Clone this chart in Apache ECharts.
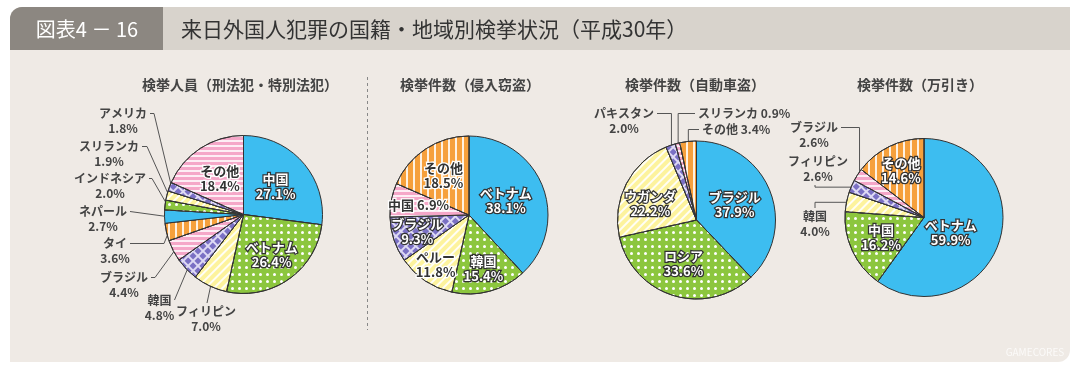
<!DOCTYPE html>
<html><head><meta charset="utf-8">
<script src="https://cdn.jsdelivr.net/npm/echarts@6/dist/echarts.min.js"></script>
<style>html,body{margin:0;padding:0;background:#fff;}#c{width:1080px;height:370px;}</style>
</head><body><div id="c"></div>
<script>
// ---------- data ----------
const headerNo = '図表4 － 16';
const headerTitle = '来日外国人犯罪の国籍・地域別検挙状況（平成30年）';
const pieTitles = ['検挙人員（刑法犯・特別法犯）', '検挙件数（侵入窃盗）', '検挙件数（自動車盗）', '検挙件数（万引き）'];

const pie1Names = ['中国', 'ベトナム', 'フィリピン', '韓国', 'ブラジル', 'タイ', 'ネパール', 'インドネシア', 'スリランカ', 'アメリカ', 'その他'];
const pie1Values = [27.1, 26.4, 7.0, 4.8, 4.4, 3.6, 2.7, 2.0, 1.9, 1.8, 18.4];

const pie2Names = ['ベトナム', '韓国', 'ペルー', 'ブラジル', '中国', 'その他'];
const pie2Values = [38.1, 15.4, 11.8, 9.3, 6.9, 18.5];

const pie3Names = ['ブラジル', 'ロシア', 'ウガンダ', 'パキスタン', 'スリランカ', 'その他'];
const pie3Values = [37.9, 33.6, 22.2, 2.0, 0.9, 3.4];

const pie4Names = ['ベトナム', '中国', '韓国', 'フィリピン', 'ブラジル', 'その他'];
const pie4Values = [59.9, 16.2, 4.0, 2.6, 2.6, 14.6];

// ---------- styles / layout ----------
const FONT = '"Noto Sans CJK JP", "Noto Sans", sans-serif';
const FILL = {
  blue:   { color: '#3dbdf0' },
  dots:   { color: '#8cc63e', decal: { symbol: 'circle', symbolSize: 1, color: '#ffffff', dashArrayX: [3, 4], dashArrayY: [3, 4] } },
  yellow: { color: '#fdf39d', decal: { symbol: 'rect', color: 'rgba(255,255,255,0.9)', dashArrayX: [1, 0], dashArrayY: [2, 4], rotation: -Math.PI / 4 } },
  check:  { color: '#dedaf4', decal: { symbol: 'rect', color: '#7a70c4', dashArrayX: [5, 2], dashArrayY: [5, 2], rotation: Math.PI / 4 } },
  pink:   { color: '#f5a7c8', decal: { symbol: 'rect', color: 'rgba(255,255,255,0.8)', dashArrayX: [1, 0], dashArrayY: [2, 3] } },
  orange: { color: '#f6a03c', decal: { symbol: 'rect', color: 'rgba(255,255,255,0.85)', dashArrayX: [2, 5], dashArrayY: [1, 0] } }
};
const six = ['blue', 'dots', 'yellow', 'check', 'pink', 'orange'];

const PIES = [
  { cx: 243.5, cy: 214.5, r: 79, title: 240, names: pie1Names, values: pie1Values,
    fills: ['blue', 'dots', 'yellow', 'check', 'pink', 'orange', 'blue', 'dots', 'yellow', 'check', 'pink'],
    labels: [
      { rf: 0.54, c: 'w' },
      { rf: 0.62, c: 'w' },
      { out: [206, 304], at: 'top', ox: 1 },
      { out: [159.5, 292.5], at: 'right', dx: 0 },
      { out: [124, 270], at: 'right', dx: 4 },
      { out: [115, 236], at: 'right', dx: 34 },
      { out: [103, 204], at: 'right', dx: 0 },
      { out: [110, 171], at: 'right', dx: 3 },
      { out: [109, 139], at: 'right', dx: 5 },
      { out: [123, 106], at: 'right', dx: 4 },
      { rf: 0.55, c: 'd' }
    ] },
  { cx: 469, cy: 215, r: 79, title: 470, names: pie2Names, values: pie2Values, fills: six,
    labels: [
      { rf: 0.5, c: 'w' },
      { rf: 0.7, c: 'w' },
      { rf: 0.76, c: 'd' },
      { rf: 0.69, c: 'w' },
      { rf: 0.65, c: 'd', one: true },
      { rf: 0.59, c: 'd' }
    ] },
  { cx: 696.5, cy: 220, r: 79, title: 695, names: pie3Names, values: pie3Values, fills: six,
    labels: [
      { rf: 0.52, c: 'w' },
      { rf: 0.57, c: 'w' },
      { rf: 0.62, c: 'w', da: -8 },
      { out: [624, 106], at: 'right', el: 'v' },
      { out: [698, 106], at: 'left', el: 'v', one: true },
      { out: [702, 122], at: 'left', el: 'v', one: true }
    ] },
  { cx: 924, cy: 217.5, r: 79, title: 920, names: pie4Names, values: pie4Values, fills: six,
    labels: [
      { rf: 0.39, c: 'w', da: 12 },
      { rf: 0.6, c: 'w' },
      { out: [815, 209], at: 'top', el: 'u' },
      { out: [818, 154], at: 'bottom', ox: -3, el: 'u' },
      { out: [814, 120], at: 'right', el: 'v' },
      { rf: 0.66, c: 'w' }
    ] }
];

const mctx = document.createElement('canvas').getContext('2d');
function tw(s, size) { mctx.font = 'bold ' + size + 'px ' + FONT; return mctx.measureText(s).width; }

function makeLayout(si) {
  const P = PIES[si];
  const total = P.values.reduce((a, b) => a + b, 0);
  const starts = []; let acc = 0;
  P.values.forEach(v => { starts.push(acc); acc += v; });
  return function (params) {
    const i = params.dataIndex;
    const L = P.labels[i];
    const mid = (starts[i] + P.values[i] / 2) / total * 2 * Math.PI;
    if (!L.out) {
      const a = mid + (L.da || 0) * Math.PI / 180;
      return { x: P.cx + L.rf * P.r * Math.sin(a), y: P.cy - L.rf * P.r * Math.cos(a), align: 'center', verticalAlign: 'middle' };
    }
    const sx = P.cx + P.r * 0.97 * Math.sin(mid), sy = P.cy - P.r * 0.97 * Math.cos(mid);
    const lx = L.out[0], ly = L.out[1], LH = 15;
    let ax, ay;
    if (L.at === 'right') { ax = lx + tw(P.names[i], 12) / 2 + 3; ay = ly + LH / 2; }
    else if (L.at === 'left') { ax = lx - 3; ay = ly + LH / 2; }
    else if (L.at === 'top') { ax = lx + (L.ox || 0); ay = ly - 1; }
    else { ax = lx + (L.ox || 0); ay = ly + (L.one ? 1 : 2) * LH + 1; }
    let elbow;
    if (L.el === 'v') elbow = [sx, ay];
    else if (L.el === 'u') elbow = [ax, sy];
    else elbow = [ax + (L.dx || 0), ay];
    return { x: lx, y: ly, align: L.one ? 'left' : 'center', verticalAlign: 'top',
      labelLinePoints: [[sx, sy], elbow, [ax, ay]] };
  };
}

function labelFor(L) {
  const fmt = p => p.name + (L.one ? ' ' : '\n') + p.value.toFixed(1) + '%';
  if (L.out) {
    return { show: true, position: 'outside', formatter: fmt, fontFamily: FONT, fontSize: 12, fontWeight: 'bold',
      lineHeight: 15, color: '#444' };
  }
  const w = L.c === 'w';
  return { show: true, position: 'inside', formatter: fmt, fontFamily: FONT, fontSize: 13, fontWeight: 'bold',
    lineHeight: 15, color: w ? '#ffffff' : '#333333', textBorderColor: w ? '#333333' : '#ffffff', textBorderWidth: 2.5 };
}

const series = PIES.map((P, si) => ({
  type: 'pie', center: [P.cx, P.cy], radius: P.r, startAngle: 90, clockwise: true,
  silent: true, animation: false, avoidLabelOverlap: false, z: 5,
  itemStyle: { borderColor: '#333', borderWidth: 1 },
  labelLayout: makeLayout(si),
  data: P.names.map((n, i) => {
    const L = P.labels[i];
    const f = FILL[P.fills[i]];
    const it = { color: f.color, borderColor: '#333', borderWidth: 1 };
    if (f.decal) it.decal = f.decal;
    return { name: n, value: P.values[i], itemStyle: it, label: labelFor(L),
      labelLine: { show: !!L.out, length: 6, length2: 6, lineStyle: { color: '#555', width: 1 } } };
  })
}));

const graphics = [
  { type: 'rect', z: 0, shape: { x: 10, y: 7, width: 1060, height: 355, r: [12, 0, 12, 0] }, style: { fill: '#efeae5' } },
  { type: 'rect', z: 1, shape: { x: 10, y: 7, width: 1060, height: 43, r: [12, 0, 0, 0] }, style: { fill: '#d8d3cc' } },
  { type: 'rect', z: 2, shape: { x: 10, y: 7, width: 153, height: 43, r: [12, 0, 0, 0] }, style: { fill: '#8c8781' } },
  { type: 'text', z: 3, x: 87, y: 29, style: { text: headerNo, fill: '#ffffff', font: '20px ' + FONT, align: 'center', verticalAlign: 'middle' } },
  { type: 'text', z: 3, x: 181, y: 29, style: { text: headerTitle, fill: '#333333', font: '21px ' + FONT, align: 'left', verticalAlign: 'middle' } },
  { type: 'line', z: 3, shape: { x1: 367.5, y1: 77, x2: 367.5, y2: 330 }, style: { stroke: '#888', lineWidth: 1, lineDash: [3, 3] } },
  { type: 'text', z: 3, x: 1035, y: 352, style: { text: 'GAMECORES', fill: 'rgba(255,255,255,0.75)', font: '10px ' + FONT, align: 'center', verticalAlign: 'middle' } }
].concat(PIES.map((P, si) => ({
  type: 'text', z: 3, x: P.title, y: 85,
  style: { text: pieTitles[si], fill: '#444', font: 'bold 14px ' + FONT, align: 'center', verticalAlign: 'middle' }
})));

const chart = echarts.init(document.getElementById('c'), null, { renderer: 'canvas' });
chart.setOption({ backgroundColor: '#ffffff', animation: false, graphic: graphics, series: series });
</script></body></html>
